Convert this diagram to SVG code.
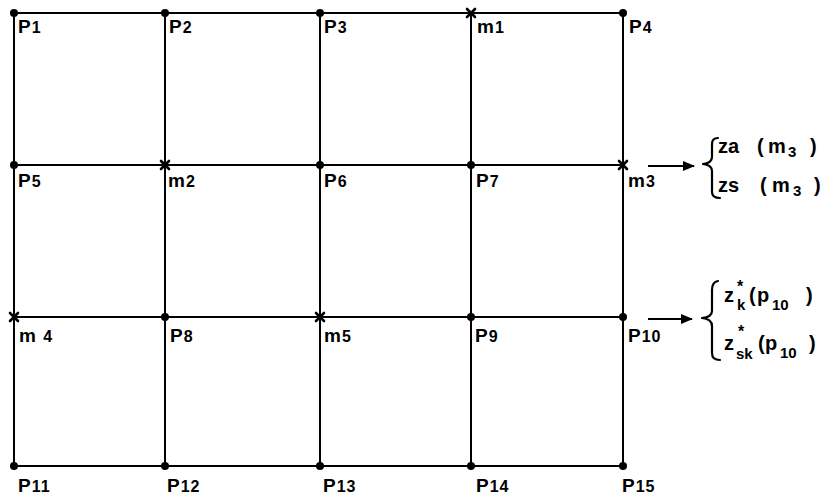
<svg xmlns="http://www.w3.org/2000/svg" width="830" height="497" viewBox="0 0 830 497">
<style>
.ln{stroke:#000;stroke-width:2;fill:none}
.br{stroke:#000;stroke-width:2.2;fill:none;stroke-linecap:round;stroke-linejoin:round}
.dot{fill:#000}
.xm{stroke:#000;stroke-width:2.6;stroke-linecap:round}
text{font-family:"Liberation Sans",Arial,sans-serif;font-weight:bold;font-size:19px;fill:#000}
.lb{letter-spacing:1px}
.sm{font-size:16px}
.r{font-size:20px}
.sub{font-size:15px}
.st{font-size:16px}
</style>
<defs>
<marker id="ah" viewBox="0 0 12 10" refX="11" refY="5" markerWidth="13" markerHeight="10" markerUnits="userSpaceOnUse" orient="auto">
<path d="M0,0 L12,5 L0,10 z" fill="#000"/>
</marker>
</defs>
<rect width="830" height="497" fill="#fff"/>
<g id="connectors">
<line class="ln" x1="14" y1="13" x2="623" y2="13"/>
<line class="ln" x1="14" y1="165" x2="623" y2="165"/>
<line class="ln" x1="14" y1="317" x2="623" y2="317"/>
<line class="ln" x1="14" y1="466" x2="623" y2="466"/>
<line class="ln" x1="14" y1="13" x2="14" y2="466"/>
<line class="ln" x1="165" y1="13" x2="165" y2="466"/>
<line class="ln" x1="320" y1="13" x2="320" y2="466"/>
<line class="ln" x1="471" y1="13" x2="471" y2="466"/>
<line class="ln" x1="623" y1="13" x2="623" y2="466"/>
<line class="ln" x1="648" y1="166" x2="694" y2="166" marker-end="url(#ah)"/>
<line class="ln" x1="648" y1="319" x2="692" y2="319" marker-end="url(#ah)"/>
</g>
<g id="P1"><circle class="dot" cx="14" cy="13" r="4"/><text class="lb" x="18" y="33">P<tspan class="sm">1</tspan></text></g>
<g id="P2"><circle class="dot" cx="165" cy="13" r="4"/><text class="lb" x="169" y="33">P<tspan class="sm">2</tspan></text></g>
<g id="P3"><circle class="dot" cx="320" cy="13" r="4"/><text class="lb" x="324" y="33">P<tspan class="sm">3</tspan></text></g>
<g id="m1"><path class="xm" d="M467,9 L475,17 M475,9 L467,17"/><text class="lb" x="477" y="33">m<tspan class="sm">1</tspan></text></g>
<g id="P4"><circle class="dot" cx="623" cy="13" r="4"/><text class="lb" x="629" y="33">P<tspan class="sm">4</tspan></text></g>
<g id="P5"><circle class="dot" cx="14" cy="165" r="4"/><text class="lb" x="18" y="187">P<tspan class="sm">5</tspan></text></g>
<g id="m2"><path class="xm" d="M161,161 L169,169 M169,161 L161,169"/><text class="lb" x="168" y="187">m<tspan class="sm">2</tspan></text></g>
<g id="P6"><circle class="dot" cx="320" cy="165" r="4"/><text class="lb" x="324" y="187">P<tspan class="sm">6</tspan></text></g>
<g id="P7"><circle class="dot" cx="471" cy="165" r="4"/><text class="lb" x="476" y="187">P<tspan class="sm">7</tspan></text></g>
<g id="m3"><path class="xm" d="M619,161 L627,169 M627,161 L619,169"/><text class="lb" x="628" y="187">m<tspan class="sm">3</tspan></text></g>
<g id="m4"><path class="xm" d="M10,313 L18,321 M18,313 L10,321"/><text class="lb" x="19" y="342">m <tspan class="sm">4</tspan></text></g>
<g id="P8"><circle class="dot" cx="165" cy="317" r="4"/><text class="lb" x="170" y="342">P<tspan class="sm">8</tspan></text></g>
<g id="m5"><path class="xm" d="M316,313 L324,321 M324,313 L316,321"/><text class="lb" x="324" y="342">m<tspan class="sm">5</tspan></text></g>
<g id="P9"><circle class="dot" cx="471" cy="317" r="4"/><text class="lb" x="475" y="342">P<tspan class="sm">9</tspan></text></g>
<g id="P10"><circle class="dot" cx="623" cy="317" r="4"/><text class="lb" x="628" y="342">P<tspan class="sm">10</tspan></text></g>
<g id="P11"><circle class="dot" cx="14" cy="466" r="4"/><text class="lb" x="18" y="492">P<tspan class="sm">11</tspan></text></g>
<g id="P12"><circle class="dot" cx="165" cy="466" r="4"/><text class="lb" x="167" y="492">P<tspan class="sm">12</tspan></text></g>
<g id="P13"><circle class="dot" cx="320" cy="466" r="4"/><text class="lb" x="323" y="492">P<tspan class="sm">13</tspan></text></g>
<g id="P14"><circle class="dot" cx="471" cy="466" r="4"/><text class="lb" x="476" y="492">P<tspan class="sm">14</tspan></text></g>
<g id="P15"><circle class="dot" cx="623" cy="466" r="4"/><text class="lb" x="622" y="492">P<tspan class="sm">15</tspan></text></g>
<g id="out-m3">
<path class="br" d="M718,138 Q712,138 712,144 L712,157 Q712,163 703,164 Q712,165 712,171 L712,192 Q712,198 720,198"/>
<text class="r" x="718" y="153">za</text><text class="r" x="757" y="153">(</text><text class="r" x="768" y="153">m</text><text x="788" y="157" class="sub">3</text><text class="r" x="810" y="153">)</text>
<text class="r" x="718" y="192">zs</text><text class="r" x="760" y="192">(</text><text class="r" x="772" y="192">m</text><text x="793" y="196" class="sub">3</text><text class="r" x="814" y="192">)</text>
</g>
<g id="out-p10">
<path class="br" d="M718,281 Q712,282 712,290 L712,311 Q712,317 702,318 Q712,319 712,326 L712,353 Q712,360 720,360"/>
<text class="r" x="724" y="302">z</text><text x="737" y="292" class="st">*</text><text x="737" y="310" class="sub">k</text>
<text class="r" x="749" y="302">(</text><text class="r" x="757" y="302">p</text><text x="772" y="310" class="sub">10</text><text class="r" x="806" y="302">)</text>
<text class="r" x="724" y="350">z</text><text x="738" y="337" class="st">*</text><text x="736" y="359" class="sub">sk</text>
<text class="r" x="758" y="350">(</text><text class="r" x="765" y="350">p</text><text x="780" y="358" class="sub">10</text><text class="r" x="809" y="350">)</text>
</g>
</svg>
